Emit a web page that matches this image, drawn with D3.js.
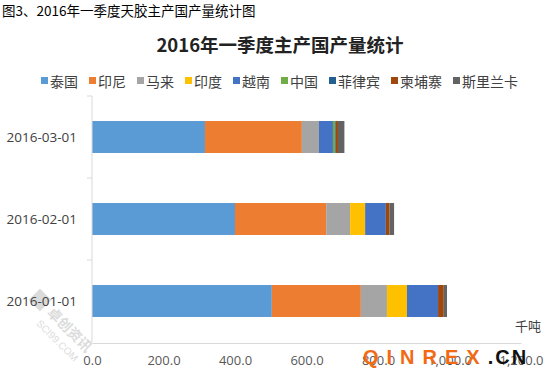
<!DOCTYPE html>
<html><head><meta charset="utf-8">
<script src="https://cdn.jsdelivr.net/npm/d3@7"></script>
<style>body{margin:0;background:#fff}svg{display:block}</style>
</head><body>
<script>
const categories = ["2016-03-01", "2016-02-01", "2016-01-01"];
const seriesNames = ["泰国", "印尼", "马来", "印度", "越南", "中国", "菲律宾", "柬埔寨", "斯里兰卡"];
const thailand  = [316, 400, 503];
const indonesia = [271, 255, 249];
const malaysia  = [48, 67, 73];
const india     = [0, 42, 56];
const vietnam   = [39, 58, 87];
const china     = [6, 0, 0];
const philippines = [2, 0, 0];
const cambodia  = [6, 10, 16];
const srilanka  = [18, 13, 9];
const xTicks = [0, 200, 400, 600, 800, 1000, 1200];
const colors = ["#5B9BD5", "#ED7D31", "#A5A5A5", "#FFC000", "#4472C4", "#70AD47", "#255E91", "#9E480E", "#636363"];

const seriesValues = [thailand, indonesia, malaysia, india, vietnam, china, philippines, cambodia, srilanka];
const rows = categories.map((c, i) => {
  const r = {cat: c};
  seriesNames.forEach((s, j) => r[s] = seriesValues[j][i]);
  return r;
});

const W = 559, H = 380;
const svg = d3.select("body").append("svg").attr("width", W).attr("height", H);

svg.append("text").attr("x", 2).attr("y", 16)
  .attr("font-family", "'Noto Sans CJK SC', sans-serif").attr("font-size", 13.5).attr("fill", "#000")
  .text("图3、2016年一季度天胶主产国产量统计图");

svg.append("text").attr("x", 280).attr("y", 52).attr("text-anchor", "middle")
  .attr("font-family", "'Noto Sans CJK SC', sans-serif").attr("font-size", 18.5).attr("font-weight", "bold").attr("fill", "#222")
  .text("2016年一季度主产国产量统计");

const x = d3.scaleLinear().domain([0, 1200]).range([92, 521]);
const y = d3.scaleBand().domain(categories).range([96, 342]).paddingInner(0.61).paddingOuter(0.305);

const stack = d3.stack().keys(seriesNames)(rows);

// watermark bottom-left
const wm = svg.append("g").attr("transform", "translate(40,300) rotate(45)").attr("opacity", 0.35);
wm.append("rect").attr("x", -8).attr("y", -8).attr("width", 16).attr("height", 16).attr("fill", "#999");
wm.append("text").attr("x", 14).attr("y", 5).attr("font-family", "'Noto Sans CJK SC', sans-serif").attr("font-size", 14).attr("font-weight", "bold").attr("fill", "#999").text("卓创资讯");
wm.append("text").attr("x", 14).attr("y", 20).attr("font-family", "Arial, sans-serif").attr("font-size", 10).attr("fill", "#999").text("SCI99.COM");

svg.append("g").selectAll("g").data(stack).join("g")
  .attr("fill", (d, i) => colors[i])
  .selectAll("rect").data(d => d).join("rect")
  .attr("x", d => x(d[0]))
  .attr("width", d => Math.max(0, x(d[1]) - x(d[0])))
  .attr("y", d => y(d.data.cat))
  .attr("height", y.bandwidth());

// vertical category axis
const ax = svg.append("g");
ax.append("line").attr("x1", 92).attr("x2", 92).attr("y1", 96).attr("y2", 342).attr("stroke", "#D9D9D9");
const step = y.step();
[96, 96 + step, 96 + 2 * step, 342].forEach(v => {
  ax.append("line").attr("x1", 87).attr("x2", 92).attr("y1", v).attr("y2", v).attr("stroke", "#D9D9D9");
});
categories.forEach(c => {
  ax.append("text").attr("x", 77).attr("y", y(c) + y.bandwidth() / 2 + 5).attr("text-anchor", "end")
    .attr("font-family", "'Open Sans', Calibri, sans-serif").attr("font-size", 13.5).attr("fill", "#404040").text(c);
});

// horizontal value axis
const xa = svg.append("g").attr("transform", "translate(0,343)")
  .call(d3.axisBottom(x).tickValues(xTicks).tickSize(0).tickPadding(13).tickFormat(d3.format(",.1f")));
xa.select(".domain").attr("stroke", "#D9D9D9");
xa.selectAll("text").attr("font-family", "'Open Sans', Calibri, sans-serif").attr("font-size", 13).attr("fill", "#595959");

svg.append("text").attr("x", 541).attr("y", 331).attr("text-anchor", "end")
  .attr("font-family", "'Noto Sans CJK SC', sans-serif").attr("font-size", 13).attr("fill", "#404040").text("千吨");

// legend
const lg = svg.append("g").attr("font-family", "'Noto Sans CJK SC', sans-serif").attr("font-size", 14).attr("fill", "#404040");
let lx = 41;
seriesNames.forEach((s, i) => {
  lg.append("rect").attr("x", lx).attr("y", 77).attr("width", 7).attr("height", 7).attr("fill", colors[i]);
  const t = lg.append("text").attr("x", lx + 9).attr("y", 86.5).text(s);
  lx += 9 + t.node().getComputedTextLength() + 11;
});

// site watermark
const sw = svg.append("text").attr("x", 363).attr("y", 364)
  .attr("font-family", "Arial, 'Liberation Sans', sans-serif").attr("font-size", 20).attr("font-weight", "bold");
sw.append("tspan").attr("fill", "#F26B12").attr("letter-spacing", 8).text("QINREX");
sw.append("tspan").attr("fill", "#111").attr("letter-spacing", 2).text(".CN");
</script>
</body></html>
